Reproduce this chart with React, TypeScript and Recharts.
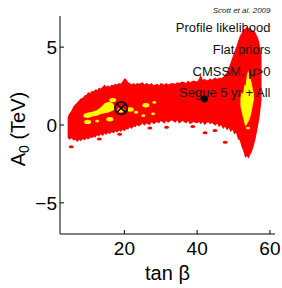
import React from 'react';
import { ComposedChart, Area, Scatter, XAxis, YAxis } from 'recharts';

const FONT = '"Liberation Sans", Arial, Helvetica, sans-serif';

const xTicks = [20, 40, 60];
const yTicks = [-5, 0, 5];
const xDomain = [2.3, 61.4];
const yDomain = [-7, 7];

// 95% CL region (red)
const redTan = [4.4, 4.8, 5.5, 6.0, 6.6, 7.0, 7.6, 8.0, 8.6, 9.0, 9.6, 10.0, 10.6, 11.0, 11.5, 12.0, 12.6, 13.0, 13.5, 14.0, 14.6, 15.0, 15.5, 16.0, 16.5, 17.0, 17.5, 18.0, 18.5, 19.0, 19.5, 20.0, 20.5, 21.0, 21.5, 22.0, 22.5, 23.0, 23.5, 24.0, 25.0, 25.5, 26.0, 27.0, 27.5, 28.0, 29.0, 29.5, 30.0, 31.0, 31.5, 32.0, 33.0, 34.0, 34.5, 35.0, 36.0, 37.0, 37.5, 38.0, 39.0, 40.0, 40.5, 41.0, 41.5, 42.0, 43.0, 43.5, 44.0, 45.0, 45.5, 46.0, 46.5, 47.2, 47.7, 48.2, 48.7, 49.2, 49.7, 50.2, 50.7, 51.2, 51.7, 52.2, 52.6, 53.2, 53.7, 54.2, 54.6, 55.0, 55.5, 56.0, 56.3, 56.7, 57.1, 57.4, 57.7];
const redLow = [-0.8, -0.95, -0.85, -1.0, -0.95, -1.1, -0.95, -1.05, -0.9, -1.0, -0.85, -0.95, -0.8, -0.85, -0.75, -0.8, -0.65, -0.75, -0.6, -0.7, -0.55, -0.65, -0.5, -0.6, -0.45, -0.55, -0.4, -0.5, -0.35, -0.45, -0.3, -0.4, -0.25, -0.3, -0.15, -0.25, -0.1, -0.15, 0.0, -0.1, 0.1, -0.05, 0.1, 0.0, 0.2, 0.05, 0.2, 0.1, 0.25, 0.1, 0.25, 0.15, 0.3, 0.15, 0.3, 0.1, 0.25, 0.1, 0.25, 0.05, 0.2, 0.1, 0.2, 0.05, 0.2, 0.0, 0.2, 0.05, 0.15, -0.05, 0.1, -0.15, 0.0, -0.25, -0.1, -0.35, -0.2, -0.45, -0.3, -0.6, -0.5, -0.9, -1.0, -1.4, -1.6, -2.1, -2.0, -2.15, -1.9, -1.75, -1.4, -0.95, -0.6, -0.1, 0.4, 1.0, 1.6];
const redHigh = [0.5, 0.7, 0.95, 1.2, 1.35, 1.45, 1.6, 1.7, 1.75, 1.9, 1.95, 2.1, 2.05, 2.2, 2.15, 2.3, 2.25, 2.4, 2.35, 2.45, 2.6, 2.45, 2.55, 2.45, 2.6, 2.55, 2.65, 2.6, 2.7, 2.65, 2.8, 3.0, 2.95, 2.75, 2.7, 2.6, 2.7, 2.6, 2.7, 2.65, 2.75, 2.6, 2.7, 2.6, 2.7, 2.55, 2.65, 2.55, 2.7, 2.6, 2.7, 2.6, 2.7, 2.65, 2.75, 2.7, 2.8, 2.7, 2.85, 2.75, 2.85, 2.8, 2.95, 3.25, 2.9, 2.95, 2.85, 3.0, 2.9, 3.05, 2.95, 3.05, 3.0, 3.1, 3.25, 3.4, 3.7, 4.0, 4.35, 4.7, 5.0, 5.35, 5.7, 5.9, 6.1, 6.2, 6.3, 6.2, 6.25, 6.1, 6.05, 5.95, 5.8, 5.6, 5.3, 4.9, 4.4];

// 68% CL regions (yellow)
const yellowLTan = [8.8, 10.0, 11.2, 12.4, 13.6, 14.6, 15.6, 16.6, 17.4];
const yellowLLow = [0.5, 0.45, 0.55, 0.6, 0.7, 0.75, 0.8, 0.9, 1.0];
const yellowLHigh = [0.7, 0.8, 0.85, 0.95, 1.15, 1.4, 1.5, 1.45, 1.2];

const yellowRTan = [51.9, 52.2, 52.6, 53.0, 53.3, 53.6, 54.0, 54.3, 54.6, 55.0, 55.3, 55.6];
const yellowRLow = [1.2, 0.9, 0.5, 0.1, -0.1, 0.0, 0.2, 0.3, 0.5, 0.9, 1.3, 1.6];
const yellowRHigh = [1.7, 2.1, 2.0, 2.6, 2.5, 3.1, 3.5, 3.3, 3.0, 2.7, 2.3, 2.0];

const yellowBlobTan = [16.0, 21.6, 25.9, 9.9, 16.8, 19.0];
const yellowBlobA0 = [0.37, 1.0, 1.27, 0.2, 1.6, 0.95];
const yellowDotTan = [25.2, 27.9, 23.2, 28.2, 12.5, 54.0];
const yellowDotA0 = [0.6, 0.72, 0.82, 1.45, 0.25, -0.2];

const redSpeckTan = [5.4, 13.1, 18.7, 27.0, 31.6, 38.8, 42.2, 44.9, 47.7];
const redSpeckA0 = [-1.4, -0.9, -0.6, -0.2, -0.15, -0.1, -0.5, -0.35, -1.1];

const bestFitTan = [19.1];
const bestFitA0 = [1.08];
const meanTan = [42.0];
const meanA0 = [1.67];

const annotations = ['Profile likelihood', 'Flat priors', 'CMSSM, \u03bc>0', 'Segue 5 yr + All'];
const credit = 'Scott et al. 2009';

const band = (xs: number[], lo: number[], hi: number[]) => xs.map((x, i) => ({ x, band: [lo[i], hi[i]] }));
const pts = (xs: number[], ys: number[]) => xs.map((x, i) => ({ x, y: ys[i] }));

const redData = band(redTan, redLow, redHigh);
const yellowLData = band(yellowLTan, yellowLLow, yellowLHigh);
const yellowRData = band(yellowRTan, yellowRLow, yellowRHigh);

const fmt = (v: number) => (v < 0 ? '\u2212' + Math.abs(v) : String(v));

const BottomTick = (p: any) => (
  <g>
    <line x1={p.x} x2={p.x} y1={p.y} y2={p.y - 4} stroke="#000" strokeWidth={1} />
    <text x={p.x} y={p.y + 20.5} textAnchor="middle" fontSize={19} fontFamily={FONT} fill="#000">
      {fmt(p.payload.value)}
    </text>
  </g>
);
const LeftTick = (p: any) => (
  <g>
    <line x1={p.x} x2={p.x + 4} y1={p.y} y2={p.y} stroke="#000" strokeWidth={1} />
    <text x={p.x - 3} y={p.y + 7} textAnchor="end" fontSize={19} fontFamily={FONT} fill="#000">
      {fmt(p.payload.value)}
    </text>
  </g>
);
const TopTick = (p: any) => <line x1={p.x} x2={p.x} y1={p.y} y2={p.y + 4} stroke="#000" strokeWidth={1} />;
const RightTick = (p: any) => <line x1={p.x} x2={p.x - 4} y1={p.y} y2={p.y} stroke="#000" strokeWidth={1} />;

const YellowBlob = (p: any) => <ellipse cx={p.cx} cy={p.cy} rx={3.5} ry={2.2} fill="#ffff00" />;
const YellowDot = (p: any) => <ellipse cx={p.cx} cy={p.cy} rx={2} ry={1.4} fill="#ffff00" />;
const RedSpeck = (p: any) => <ellipse cx={p.cx} cy={p.cy} rx={2.5} ry={1.5} fill="#ff0000" />;
const BestFit = (p: any) => {
  const r = 6.3;
  const d = r * 0.7071;
  return (
    <g stroke="#000" strokeWidth={1.5} fill="none">
      <circle cx={p.cx} cy={p.cy} r={r} />
      <line x1={p.cx - d} y1={p.cy - d} x2={p.cx + d} y2={p.cy + d} />
      <line x1={p.cx - d} y1={p.cy + d} x2={p.cx + d} y2={p.cy - d} />
    </g>
  );
};
const MeanDot = (p: any) => <circle cx={p.cx} cy={p.cy} r={3.4} fill="#000" />;

export default function App() {
  return (
    <div style={{ position: 'absolute', left: 0, top: 0, width: 282, height: 288, background: '#fff' }}>
      <ComposedChart width={282} height={288} margin={{ top: 16, right: 7, bottom: 0, left: 0 }}>
        <XAxis
          xAxisId={0}
          type="number"
          dataKey="x"
          domain={xDomain}
          ticks={xTicks}
          allowDataOverflow
          height={54}
          interval={0}
          tickSize={0}
          tickMargin={0}
          tickLine={false}
          axisLine={{ stroke: '#000', strokeWidth: 1 }}
          tick={BottomTick}
        />
        <XAxis
          xAxisId="top"
          orientation="top"
          type="number"
          domain={xDomain}
          ticks={xTicks}
          allowDataOverflow
          height={0}
          interval={0}
          tickSize={0}
          tickMargin={0}
          tickLine={false}
          axisLine={{ stroke: '#000', strokeWidth: 1 }}
          tick={TopTick}
        />
        <YAxis
          yAxisId={0}
          type="number"
          dataKey="y"
          domain={yDomain}
          ticks={yTicks}
          allowDataOverflow
          width={60}
          interval={0}
          tickSize={0}
          tickMargin={0}
          tickLine={false}
          axisLine={{ stroke: '#000', strokeWidth: 1 }}
          tick={LeftTick}
        />
        <YAxis
          yAxisId="right"
          orientation="right"
          type="number"
          domain={yDomain}
          ticks={yTicks}
          allowDataOverflow
          width={0}
          interval={0}
          tickSize={0}
          tickMargin={0}
          tickLine={false}
          axisLine={{ stroke: '#000', strokeWidth: 1 }}
          tick={RightTick}
        />
        <Area data={redData} dataKey="band" type="linear" stroke="none" fill="#ff0000" fillOpacity={1} dot={false} activeDot={false} isAnimationActive={false} />
        <Area data={yellowLData} dataKey="band" type="linear" stroke="none" fill="#ffff00" fillOpacity={1} dot={false} activeDot={false} isAnimationActive={false} />
        <Area data={yellowRData} dataKey="band" type="linear" stroke="none" fill="#ffff00" fillOpacity={1} dot={false} activeDot={false} isAnimationActive={false} />
        <Scatter data={pts(redSpeckTan, redSpeckA0)} shape={RedSpeck} isAnimationActive={false} />
        <Scatter data={pts(yellowBlobTan, yellowBlobA0)} shape={YellowBlob} isAnimationActive={false} />
        <Scatter data={pts(yellowDotTan, yellowDotA0)} shape={YellowDot} isAnimationActive={false} />
        <Scatter data={pts(bestFitTan, bestFitA0)} shape={BestFit} isAnimationActive={false} />
        <Scatter data={pts(meanTan, meanA0)} shape={MeanDot} isAnimationActive={false} />
      </ComposedChart>
      <svg width={282} height={288} style={{ position: 'absolute', left: 0, top: 0, pointerEvents: 'none' }}>
        <text x={270.5} y={12.5} textAnchor="end" fontSize={8} fontStyle="italic" fontFamily={FONT} fill="#222">
          {credit}
        </text>
        {annotations.map((t, i) => (
          <text key={t} x={270.5} y={32 + i * 21.8} textAnchor="end" fontSize={13} fontFamily={FONT} fill="#111">
            {t}
          </text>
        ))}
        <text x={167.5} y={280} textAnchor="middle" fontSize={20} fontFamily={FONT} fill="#000">
          tan {'\u03b2'}
        </text>
        <text transform="translate(25,129) rotate(-90)" textAnchor="middle" fontSize={20} fontFamily={FONT} fill="#000">
          A<tspan fontSize={14} dy={4}>0</tspan>
          <tspan dy={-4}> (TeV)</tspan>
        </text>
      </svg>
    </div>
  );
}
